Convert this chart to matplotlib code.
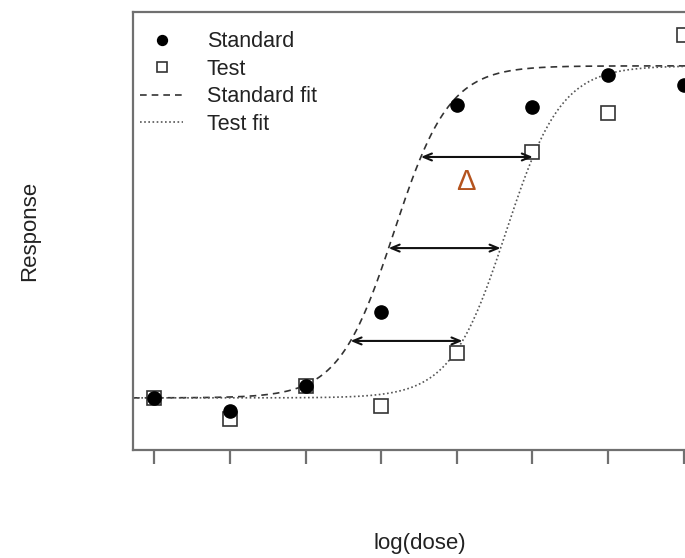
import numpy as np
import matplotlib
matplotlib.use("Agg")
import matplotlib.pyplot as plt

# Data
dose = [1, 2, 3, 4, 5, 6, 7, 8]
standard = [11.9, 8.9, 14.6, 31.5, 78.8, 78.3, 85.6, 83.3]
test = [11.9, 7.1, 14.6, 10.0, 22.1, 68.0, 76.9, 94.7]

# Fit parameters (logistic): lower, upper, slope, midpoint
fit_low = 11.9
fit_high = 87.7
fit_slope = 2.74
std_mid = 4.17
test_mid = 5.65

# Arrow levels (response) and legend labels
arrow_levels = [24.9, 46.1, 66.9]
legend_labels = ["Standard", "Test", "Standard fit", "Test fit"]

def logistic(x, mid):
    return fit_low + (fit_high - fit_low) / (1 + np.exp(-fit_slope * (x - mid)))

def inv_logistic(y, mid):
    f = (y - fit_low) / (fit_high - fit_low)
    return mid + np.log(f / (1 - f)) / fit_slope

plt.rcParams['font.family'] = ['Liberation Sans', 'DejaVu Sans']

fig = plt.figure(figsize=(6.85, 5.58), dpi=100)
ax = fig.add_axes([133 / 685, 108 / 558, 572 / 685, 438 / 558])

xlim = (0.72, 8.28)
ax.set_xlim(*xlim)
ax.set_ylim(0, 100)

xs = np.linspace(xlim[0], xlim[1], 400)
l_std, = ax.plot(xs, logistic(xs, std_mid), color='#333333', lw=1.2,
                 linestyle=(0, (4, 3)))
l_test, = ax.plot(xs, logistic(xs, test_mid), color='#555555', lw=1.2,
                  linestyle=(0, (1, 1.5)))

p_test, = ax.plot(dose, test, linestyle='none', marker='s', markersize=9.5,
                  markerfacecolor='white', markeredgecolor='#333333',
                  markeredgewidth=1.2)
p_std, = ax.plot(dose, standard, linestyle='none', marker='o', markersize=9.5,
                 markerfacecolor='black', markeredgecolor='black')

for lvl in arrow_levels:
    x0 = inv_logistic(lvl, std_mid)
    x1 = inv_logistic(lvl, test_mid)
    ax.annotate('', xy=(x0, lvl), xytext=(x1, lvl),
                arrowprops=dict(arrowstyle='<->,head_length=0.6,head_width=0.25',
                                color='#111111', lw=1.5, shrinkA=0, shrinkB=0))

ax.text(5.12, 61.3, 'Δ', color='#b5541e', fontsize=21, ha='center', va='center')

for s in ax.spines.values():
    s.set_color('#707070')
    s.set_linewidth(1.6)

ax.set_xticks(dose)
ax.set_xticklabels([])
ax.set_yticks([])
ax.tick_params(axis='x', direction='out', length=10, width=1.6, color='#707070')

fig.text(30 / 685, 1 - 231 / 558, 'Response', rotation=90, ha='center',
         va='center', fontsize=16, color='#222222')
fig.text(420 / 685, 1 - 544 / 558, 'log(dose)', ha='center', va='center',
         fontsize=16, color='#222222')

leg = ax.legend([p_std, p_test, l_std, l_test], legend_labels,
                loc='upper left', bbox_to_anchor=(-0.01, 0.985), frameon=False,
                fontsize=15.5, handlelength=2.0, handletextpad=1.1,
                labelspacing=0.3, borderaxespad=0.2, markerscale=0.75)
for t in leg.get_texts():
    t.set_color('#222222')

fig.savefig('out.png', dpi=100)
